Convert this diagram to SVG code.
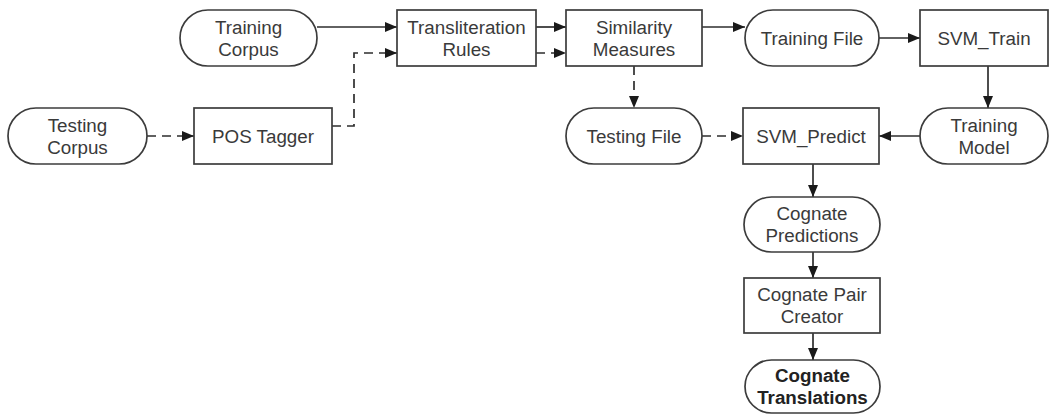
<svg xmlns="http://www.w3.org/2000/svg" width="1049" height="414" viewBox="0 0 1049 414">
<defs>
<marker id="ah" markerUnits="userSpaceOnUse" markerWidth="12" markerHeight="10" refX="12" refY="5" orient="auto">
<path d="M0,0 L12,5 L0,10 z" fill="#1a1a1a"/>
</marker>
<style>
.n rect{fill:#fff;stroke:#3c3c3c;stroke-width:1.7}
.n text{font-family:"Liberation Sans",Arial,sans-serif;font-size:18.8px;fill:#3a3a3a;text-anchor:middle}
.b text{font-weight:bold;fill:#222}
#edges path{fill:none;stroke:#2e2e2e;stroke-width:1.7;marker-end:url(#ah)}
#edges .d{stroke-dasharray:9 6}
</style>
</defs>
<rect width="1049" height="414" fill="#fff"/>
<g id="edges">
<path d="M317,27 H397"/>
<path class="d" d="M332,126 H354 V53 H397"/>
<path class="d" d="M147,136 H194"/>
<path d="M536,27 H566"/>
<path class="d" d="M536,53 H566"/>
<path d="M702,27 H745"/>
<path d="M879,38 H920"/>
<path d="M988,66 V108"/>
<path class="d" d="M634,66 V108"/>
<path class="d" d="M702,136 H743"/>
<path d="M920,136 H879"/>
<path d="M813,164 V197"/>
<path d="M813,252 V278"/>
<path d="M813,333 V360"/>
</g>
<g id="training_corpus" class="n"><rect x="180" y="10" width="137" height="56" rx="28"/><text x="248.5" y="34">Training</text><text x="248.5" y="56">Corpus</text></g>
<g id="transliteration_rules" class="n"><rect x="397" y="10" width="139" height="56"/><text x="466.5" y="34">Transliteration</text><text x="466.5" y="56">Rules</text></g>
<g id="testing_corpus" class="n"><rect x="8" y="108" width="139" height="56" rx="28"/><text x="77.5" y="132">Testing</text><text x="77.5" y="154">Corpus</text></g>
<g id="pos_tagger" class="n"><rect x="194" y="108" width="138" height="56"/><text x="263" y="143">POS Tagger</text></g>
<g id="similarity_measures" class="n"><rect x="566" y="10" width="136" height="56"/><text x="634" y="34">Similarity</text><text x="634" y="56">Measures</text></g>
<g id="training_file" class="n"><rect x="745" y="10" width="134" height="56" rx="28"/><text x="812" y="45">Training File</text></g>
<g id="svm_train" class="n"><rect x="920" y="10" width="128" height="56"/><text x="984" y="45">SVM_Train</text></g>
<g id="testing_file" class="n"><rect x="566" y="108" width="136" height="56" rx="28"/><text x="634" y="143">Testing File</text></g>
<g id="svm_predict" class="n"><rect x="743" y="108" width="136" height="56"/><text x="811" y="143">SVM_Predict</text></g>
<g id="training_model" class="n"><rect x="920" y="108" width="128" height="56" rx="28"/><text x="984" y="132">Training</text><text x="984" y="154">Model</text></g>
<g id="cognate_predictions" class="n"><rect x="744" y="197" width="136" height="55" rx="27.5"/><text x="812" y="220">Cognate</text><text x="812" y="242">Predictions</text></g>
<g id="cognate_pair_creator" class="n"><rect x="744" y="278" width="136" height="55"/><text x="812" y="301">Cognate Pair</text><text x="812" y="323">Creator</text></g>
<g id="cognate_translations" class="n b"><rect x="745" y="360" width="135" height="53" rx="26.5"/><text x="812.5" y="382">Cognate</text><text x="812.5" y="404">Translations</text></g>
</svg>
